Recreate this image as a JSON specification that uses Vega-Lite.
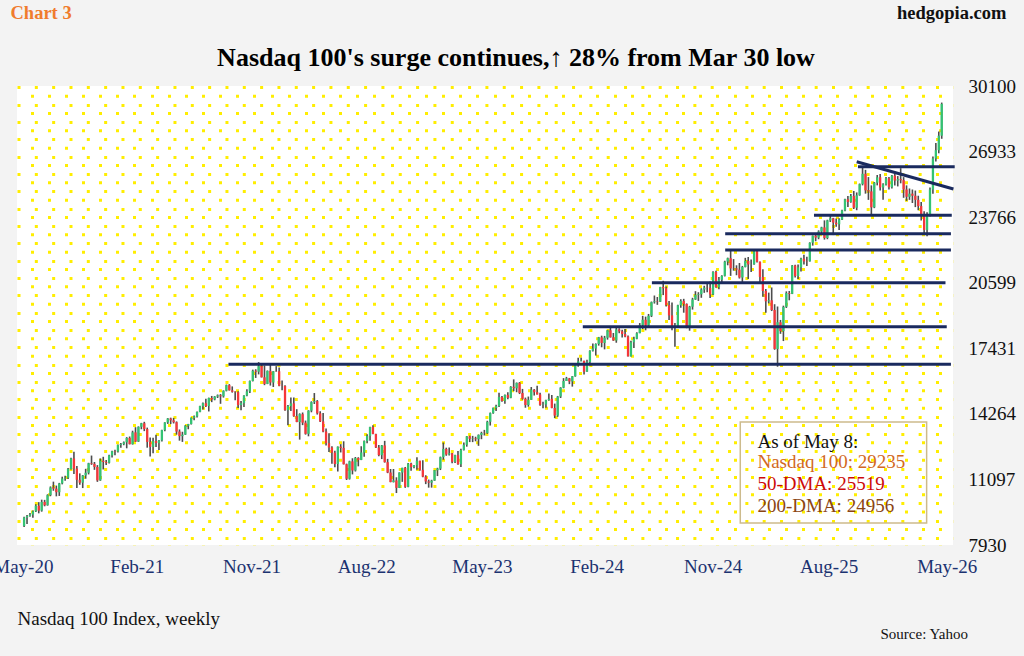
{
  "$schema": "https://vega.github.io/schema/vega-lite/v6.json",
  "autosize": {"type": "none"},
  "width": 936,
  "height": 459,
  "padding": {"left": 17, "top": 86, "right": 71, "bottom": 111},
  "background": "#f3f3f3",
  "view": {"fill": "#ffffff", "stroke": null},
  "title": {
    "text": "Nasdaq 100's surge continues,↑ 28% from Mar 30 low",
    "anchor": "middle",
    "frame": "group",
    "dx": 31,
    "offset": -89,
    "baseline": "alphabetic",
    "font": "Liberation Serif",
    "fontSize": 26,
    "fontWeight": "bold",
    "color": "#000000"
  },
  "datasets": {
    "weekly": [
      {"d":"2020-05-08","o":8850,"h":9290,"l":8800,"c":9260},
      {"d":"2020-05-15","o":9260,"h":9380,"l":8950,"c":9330},
      {"d":"2020-05-22","o":9330,"h":9470,"l":9290,"c":9400},
      {"d":"2020-05-29","o":9400,"h":9600,"l":9250,"c":9555},
      {"d":"2020-06-05","o":9555,"h":9900,"l":9520,"c":9830},
      {"d":"2020-06-12","o":9830,"h":10000,"l":9460,"c":9590},
      {"d":"2020-06-19","o":9590,"h":10120,"l":9540,"c":10010},
      {"d":"2020-06-26","o":10010,"h":10110,"l":9800,"c":9850},
      {"d":"2020-07-03","o":9850,"h":10380,"l":9830,"c":10340},
      {"d":"2020-07-10","o":10340,"h":10760,"l":10290,"c":10710},
      {"d":"2020-07-17","o":10710,"h":10990,"l":10550,"c":10650},
      {"d":"2020-07-24","o":10650,"h":10800,"l":10280,"c":10480},
      {"d":"2020-07-31","o":10480,"h":10930,"l":10300,"c":10905},
      {"d":"2020-08-07","o":10905,"h":11230,"l":10860,"c":11140},
      {"d":"2020-08-14","o":11140,"h":11280,"l":11030,"c":11180},
      {"d":"2020-08-21","o":11180,"h":11650,"l":11120,"c":11600},
      {"d":"2020-08-28","o":11600,"h":12140,"l":11580,"c":12110},
      {"d":"2020-09-04","o":12110,"h":12440,"l":11360,"c":11620},
      {"d":"2020-09-11","o":11620,"h":11740,"l":10680,"c":11080},
      {"d":"2020-09-18","o":11080,"h":11390,"l":10840,"c":10940},
      {"d":"2020-09-25","o":10940,"h":11310,"l":10680,"c":11290},
      {"d":"2020-10-02","o":11290,"h":11610,"l":11130,"c":11420},
      {"d":"2020-10-09","o":11420,"h":11900,"l":11340,"c":11880},
      {"d":"2020-10-16","o":11880,"h":12250,"l":11800,"c":11850},
      {"d":"2020-10-23","o":11850,"h":11940,"l":11560,"c":11700},
      {"d":"2020-10-30","o":11700,"h":11790,"l":10980,"c":11050},
      {"d":"2020-11-06","o":11050,"h":12110,"l":11030,"c":12000},
      {"d":"2020-11-13","o":12000,"h":12190,"l":11580,"c":11940},
      {"d":"2020-11-20","o":11940,"h":12040,"l":11800,"c":11900},
      {"d":"2020-11-27","o":11900,"h":12290,"l":11870,"c":12260},
      {"d":"2020-12-04","o":12260,"h":12480,"l":12160,"c":12460},
      {"d":"2020-12-11","o":12460,"h":12530,"l":12270,"c":12440},
      {"d":"2020-12-18","o":12440,"h":12780,"l":12400,"c":12760},
      {"d":"2020-12-25","o":12760,"h":12860,"l":12630,"c":12800},
      {"d":"2021-01-01","o":12800,"h":12930,"l":12750,"c":12890},
      {"d":"2021-01-08","o":12890,"h":13140,"l":12600,"c":13100},
      {"d":"2021-01-15","o":13100,"h":13170,"l":12790,"c":12800},
      {"d":"2021-01-22","o":12800,"h":13450,"l":12780,"c":13370},
      {"d":"2021-01-29","o":13370,"h":13620,"l":12910,"c":12925},
      {"d":"2021-02-05","o":12925,"h":13660,"l":12910,"c":13640},
      {"d":"2021-02-12","o":13640,"h":13830,"l":13520,"c":13810},
      {"d":"2021-02-19","o":13810,"h":13880,"l":13430,"c":13530},
      {"d":"2021-02-26","o":13530,"h":13600,"l":12630,"c":12910},
      {"d":"2021-03-05","o":12910,"h":13120,"l":12210,"c":12670},
      {"d":"2021-03-12","o":12670,"h":13110,"l":12360,"c":12950},
      {"d":"2021-03-19","o":12950,"h":13250,"l":12660,"c":12850},
      {"d":"2021-03-26","o":12850,"h":13000,"l":12520,"c":12980},
      {"d":"2021-04-02","o":12980,"h":13500,"l":12930,"c":13480},
      {"d":"2021-04-09","o":13480,"h":13860,"l":13430,"c":13850},
      {"d":"2021-04-16","o":13850,"h":14060,"l":13780,"c":14040},
      {"d":"2021-04-23","o":14040,"h":14080,"l":13770,"c":13950},
      {"d":"2021-04-30","o":13950,"h":14070,"l":13800,"c":13860},
      {"d":"2021-05-07","o":13860,"h":13900,"l":13260,"c":13410},
      {"d":"2021-05-14","o":13410,"h":13510,"l":12970,"c":13190},
      {"d":"2021-05-21","o":13190,"h":13400,"l":12910,"c":13260},
      {"d":"2021-05-28","o":13260,"h":13720,"l":13250,"c":13690},
      {"d":"2021-06-04","o":13690,"h":13780,"l":13520,"c":13770},
      {"d":"2021-06-11","o":13770,"h":14090,"l":13750,"c":14070},
      {"d":"2021-06-18","o":14070,"h":14190,"l":13960,"c":14140},
      {"d":"2021-06-25","o":14140,"h":14380,"l":14090,"c":14360},
      {"d":"2021-07-02","o":14360,"h":14660,"l":14340,"c":14640},
      {"d":"2021-07-09","o":14640,"h":14810,"l":14470,"c":14780},
      {"d":"2021-07-16","o":14780,"h":15000,"l":14600,"c":14640},
      {"d":"2021-07-23","o":14640,"h":15050,"l":14380,"c":15030},
      {"d":"2021-07-30","o":15030,"h":15130,"l":14830,"c":14960},
      {"d":"2021-08-06","o":14960,"h":15120,"l":14920,"c":15100},
      {"d":"2021-08-13","o":15100,"h":15200,"l":15030,"c":15160},
      {"d":"2021-08-20","o":15160,"h":15220,"l":14750,"c":15110},
      {"d":"2021-08-27","o":15110,"h":15400,"l":15050,"c":15380},
      {"d":"2021-09-03","o":15380,"h":15680,"l":15350,"c":15650},
      {"d":"2021-09-10","o":15650,"h":15700,"l":15390,"c":15400},
      {"d":"2021-09-17","o":15400,"h":15590,"l":15290,"c":15330},
      {"d":"2021-09-24","o":15330,"h":15360,"l":14920,"c":15310},
      {"d":"2021-10-01","o":15310,"h":15360,"l":14550,"c":14690},
      {"d":"2021-10-08","o":14690,"h":14890,"l":14440,"c":14780},
      {"d":"2021-10-15","o":14780,"h":15160,"l":14600,"c":15150},
      {"d":"2021-10-22","o":15150,"h":15450,"l":15110,"c":15350},
      {"d":"2021-10-29","o":15350,"h":15870,"l":15270,"c":15850},
      {"d":"2021-11-05","o":15850,"h":16400,"l":15830,"c":16350},
      {"d":"2021-11-12","o":16350,"h":16420,"l":16000,"c":16300},
      {"d":"2021-11-19","o":16300,"h":16765,"l":16170,"c":16570},
      {"d":"2021-11-26","o":16570,"h":16630,"l":16020,"c":16030},
      {"d":"2021-12-03","o":16030,"h":16600,"l":15650,"c":15710},
      {"d":"2021-12-10","o":15710,"h":16360,"l":15700,"c":16340},
      {"d":"2021-12-17","o":16340,"h":16660,"l":15630,"c":15780},
      {"d":"2021-12-24","o":15780,"h":16330,"l":15560,"c":16320},
      {"d":"2021-12-31","o":16330,"h":16570,"l":16300,"c":16320},
      {"d":"2022-01-07","o":16320,"h":16500,"l":15600,"c":15620},
      {"d":"2022-01-14","o":15620,"h":15870,"l":15400,"c":15610},
      {"d":"2022-01-21","o":15610,"h":15640,"l":14420,"c":14440},
      {"d":"2022-01-28","o":14440,"h":14690,"l":13720,"c":14640},
      {"d":"2022-02-04","o":14640,"h":15050,"l":14400,"c":14770},
      {"d":"2022-02-11","o":14770,"h":15060,"l":14120,"c":14150},
      {"d":"2022-02-18","o":14150,"h":14490,"l":13860,"c":13870},
      {"d":"2022-02-25","o":13870,"h":14290,"l":13020,"c":14250},
      {"d":"2022-03-04","o":14250,"h":14330,"l":13720,"c":13840},
      {"d":"2022-03-11","o":13840,"h":13940,"l":13260,"c":13300},
      {"d":"2022-03-18","o":13300,"h":14440,"l":13180,"c":14420},
      {"d":"2022-03-25","o":14420,"h":14870,"l":14340,"c":14830},
      {"d":"2022-04-01","o":14830,"h":15270,"l":14740,"c":14880},
      {"d":"2022-04-08","o":14880,"h":14930,"l":14230,"c":14290},
      {"d":"2022-04-15","o":14290,"h":14390,"l":13870,"c":13900},
      {"d":"2022-04-22","o":13900,"h":14300,"l":13370,"c":13410},
      {"d":"2022-04-29","o":13410,"h":13560,"l":12730,"c":12850},
      {"d":"2022-05-06","o":12850,"h":13330,"l":12420,"c":12640},
      {"d":"2022-05-13","o":12640,"h":12700,"l":11850,"c":12390},
      {"d":"2022-05-20","o":12390,"h":12480,"l":11690,"c":11840},
      {"d":"2022-05-27","o":11840,"h":12690,"l":11480,"c":12680},
      {"d":"2022-06-03","o":12680,"h":12800,"l":12400,"c":12620},
      {"d":"2022-06-10","o":12620,"h":12940,"l":11820,"c":11830},
      {"d":"2022-06-17","o":11830,"h":11860,"l":11070,"c":11130},
      {"d":"2022-06-24","o":11130,"h":12000,"l":11090,"c":11970},
      {"d":"2022-07-01","o":11970,"h":12120,"l":11340,"c":11530},
      {"d":"2022-07-08","o":11530,"h":12180,"l":11480,"c":12130},
      {"d":"2022-07-15","o":12130,"h":12170,"l":11730,"c":12040},
      {"d":"2022-07-22","o":12040,"h":12700,"l":12030,"c":12400},
      {"d":"2022-07-29","o":12400,"h":12980,"l":12190,"c":12950},
      {"d":"2022-08-05","o":12950,"h":13280,"l":12850,"c":13200},
      {"d":"2022-08-12","o":13200,"h":13640,"l":12970,"c":13630},
      {"d":"2022-08-19","o":13630,"h":13720,"l":13280,"c":13290},
      {"d":"2022-08-26","o":13290,"h":13300,"l":12620,"c":12640},
      {"d":"2022-09-02","o":12640,"h":12760,"l":12220,"c":12270},
      {"d":"2022-09-09","o":12270,"h":12760,"l":12080,"c":12740},
      {"d":"2022-09-16","o":12740,"h":12960,"l":11910,"c":11930},
      {"d":"2022-09-23","o":11930,"h":12090,"l":11400,"c":11430},
      {"d":"2022-09-30","o":11430,"h":11600,"l":10960,"c":10970},
      {"d":"2022-10-07","o":10970,"h":11600,"l":10950,"c":11050},
      {"d":"2022-10-14","o":11050,"h":11200,"l":10440,"c":10690},
      {"d":"2022-10-21","o":10690,"h":11440,"l":10680,"c":11430},
      {"d":"2022-10-28","o":11430,"h":11660,"l":10980,"c":11660},
      {"d":"2022-11-04","o":11660,"h":11700,"l":10690,"c":10740},
      {"d":"2022-11-11","o":10740,"h":11890,"l":10720,"c":11860},
      {"d":"2022-11-18","o":11860,"h":11900,"l":11520,"c":11690},
      {"d":"2022-11-25","o":11690,"h":11800,"l":11640,"c":11790},
      {"d":"2022-12-02","o":11790,"h":12170,"l":11560,"c":12000},
      {"d":"2022-12-09","o":12000,"h":12000,"l":11520,"c":11560},
      {"d":"2022-12-16","o":11560,"h":12020,"l":11200,"c":11230},
      {"d":"2022-12-23","o":11230,"h":11300,"l":10870,"c":11000},
      {"d":"2022-12-30","o":11000,"h":11090,"l":10700,"c":10940},
      {"d":"2023-01-06","o":10940,"h":11080,"l":10700,"c":11040},
      {"d":"2023-01-13","o":11040,"h":11550,"l":11030,"c":11540},
      {"d":"2023-01-20","o":11540,"h":11660,"l":11260,"c":11620},
      {"d":"2023-01-27","o":11620,"h":12200,"l":11550,"c":12170},
      {"d":"2023-02-03","o":12170,"h":12880,"l":12050,"c":12570},
      {"d":"2023-02-10","o":12570,"h":12630,"l":12240,"c":12300},
      {"d":"2023-02-17","o":12300,"h":12640,"l":12250,"c":12360},
      {"d":"2023-02-24","o":12360,"h":12370,"l":11880,"c":11950},
      {"d":"2023-03-03","o":11950,"h":12290,"l":11890,"c":12270},
      {"d":"2023-03-10","o":12270,"h":12470,"l":11810,"c":11830},
      {"d":"2023-03-17","o":11830,"h":12580,"l":11700,"c":12520},
      {"d":"2023-03-24","o":12520,"h":12880,"l":12500,"c":12770},
      {"d":"2023-03-31","o":12770,"h":13190,"l":12680,"c":13180},
      {"d":"2023-04-07","o":13180,"h":13210,"l":12900,"c":13060},
      {"d":"2023-04-14","o":13060,"h":13200,"l":12900,"c":13080},
      {"d":"2023-04-21","o":13080,"h":13160,"l":12940,"c":13040},
      {"d":"2023-04-28","o":13040,"h":13270,"l":12720,"c":13250},
      {"d":"2023-05-05","o":13250,"h":13400,"l":13040,"c":13340},
      {"d":"2023-05-12","o":13350,"h":13490,"l":13220,"c":13340},
      {"d":"2023-05-19","o":13340,"h":13930,"l":13300,"c":13880},
      {"d":"2023-05-26","o":13880,"h":14330,"l":13700,"c":14300},
      {"d":"2023-06-02","o":14300,"h":14570,"l":14270,"c":14550},
      {"d":"2023-06-09","o":14550,"h":14700,"l":14400,"c":14640},
      {"d":"2023-06-16","o":14640,"h":15280,"l":14600,"c":15080},
      {"d":"2023-06-23","o":15080,"h":15130,"l":14850,"c":14890},
      {"d":"2023-06-30","o":14890,"h":15200,"l":14750,"c":15180},
      {"d":"2023-07-07","o":15180,"h":15310,"l":14970,"c":15040},
      {"d":"2023-07-14","o":15040,"h":15600,"l":15020,"c":15570},
      {"d":"2023-07-21","o":15570,"h":15930,"l":15360,"c":15500},
      {"d":"2023-07-28","o":15500,"h":15780,"l":15310,"c":15760},
      {"d":"2023-08-04","o":15760,"h":15800,"l":15220,"c":15270},
      {"d":"2023-08-11","o":15270,"h":15470,"l":14950,"c":14990},
      {"d":"2023-08-18","o":14990,"h":15050,"l":14560,"c":14690},
      {"d":"2023-08-25","o":14690,"h":15100,"l":14610,"c":14940},
      {"d":"2023-09-01","o":14940,"h":15560,"l":14940,"c":15430},
      {"d":"2023-09-08","o":15430,"h":15460,"l":15150,"c":15310},
      {"d":"2023-09-15","o":15310,"h":15620,"l":15200,"c":15200},
      {"d":"2023-09-22","o":15200,"h":15280,"l":14660,"c":14700},
      {"d":"2023-09-29","o":14700,"h":14850,"l":14540,"c":14720},
      {"d":"2023-10-06","o":14720,"h":14940,"l":14560,"c":14930},
      {"d":"2023-10-13","o":14930,"h":15250,"l":14900,"c":14990},
      {"d":"2023-10-20","o":14990,"h":15180,"l":14530,"c":14550},
      {"d":"2023-10-27","o":14550,"h":14760,"l":14060,"c":14180},
      {"d":"2023-11-03","o":14180,"h":15130,"l":14120,"c":15100},
      {"d":"2023-11-10","o":15100,"h":15550,"l":15030,"c":15530},
      {"d":"2023-11-17","o":15530,"h":15990,"l":15500,"c":15850},
      {"d":"2023-11-24","o":15850,"h":16050,"l":15850,"c":15980},
      {"d":"2023-12-01","o":15980,"h":16000,"l":15700,"c":15830},
      {"d":"2023-12-08","o":15830,"h":16090,"l":15580,"c":16080},
      {"d":"2023-12-15","o":16080,"h":16680,"l":16060,"c":16620},
      {"d":"2023-12-22","o":16620,"h":16970,"l":16540,"c":16800},
      {"d":"2023-12-29","o":16800,"h":16970,"l":16800,"c":16830},
      {"d":"2024-01-05","o":16830,"h":16830,"l":16170,"c":16300},
      {"d":"2024-01-12","o":16300,"h":16880,"l":16300,"c":16770},
      {"d":"2024-01-19","o":16770,"h":17340,"l":16610,"c":17310},
      {"d":"2024-01-26","o":17310,"h":17660,"l":17280,"c":17420},
      {"d":"2024-02-02","o":17420,"h":17670,"l":17080,"c":17640},
      {"d":"2024-02-09","o":17640,"h":17980,"l":17560,"c":17960},
      {"d":"2024-02-16","o":17960,"h":18040,"l":17480,"c":17690},
      {"d":"2024-02-23","o":17690,"h":18030,"l":17380,"c":17940},
      {"d":"2024-03-01","o":17940,"h":18310,"l":17850,"c":18300},
      {"d":"2024-03-08","o":18300,"h":18420,"l":17950,"c":17960},
      {"d":"2024-03-15","o":17960,"h":18170,"l":17790,"c":17810},
      {"d":"2024-03-22","o":17810,"h":18460,"l":17700,"c":18340},
      {"d":"2024-03-29","o":18340,"h":18400,"l":18160,"c":18250},
      {"d":"2024-04-05","o":18250,"h":18330,"l":17950,"c":18120},
      {"d":"2024-04-12","o":18120,"h":18360,"l":17970,"c":18000},
      {"d":"2024-04-19","o":18000,"h":18050,"l":17030,"c":17040},
      {"d":"2024-04-26","o":17040,"h":17790,"l":17040,"c":17720},
      {"d":"2024-05-03","o":17720,"h":17990,"l":17450,"c":17890},
      {"d":"2024-05-10","o":17890,"h":18200,"l":17870,"c":18160},
      {"d":"2024-05-17","o":18160,"h":18650,"l":18160,"c":18550},
      {"d":"2024-05-24","o":18550,"h":19000,"l":18360,"c":18810},
      {"d":"2024-05-31","o":18810,"h":18960,"l":18300,"c":18540},
      {"d":"2024-06-07","o":18540,"h":19090,"l":18500,"c":19000},
      {"d":"2024-06-14","o":19000,"h":19690,"l":18940,"c":19660},
      {"d":"2024-06-21","o":19660,"h":19980,"l":19590,"c":19700},
      {"d":"2024-06-28","o":19700,"h":19910,"l":19530,"c":19680},
      {"d":"2024-07-05","o":19680,"h":20400,"l":19670,"c":20390},
      {"d":"2024-07-12","o":20390,"h":20690,"l":20000,"c":20330},
      {"d":"2024-07-19","o":20330,"h":20420,"l":19450,"c":19520},
      {"d":"2024-07-26","o":19520,"h":19720,"l":18800,"c":19020},
      {"d":"2024-08-02","o":19020,"h":19640,"l":18300,"c":18440},
      {"d":"2024-08-09","o":18440,"h":18650,"l":17500,"c":18500},
      {"d":"2024-08-16","o":18500,"h":19540,"l":18470,"c":19510},
      {"d":"2024-08-23","o":19510,"h":19800,"l":19390,"c":19720},
      {"d":"2024-08-30","o":19720,"h":19820,"l":19150,"c":19570},
      {"d":"2024-09-06","o":19570,"h":19600,"l":18400,"c":18420},
      {"d":"2024-09-13","o":18420,"h":19480,"l":18280,"c":19440},
      {"d":"2024-09-20","o":19440,"h":19870,"l":19300,"c":19790},
      {"d":"2024-09-27","o":19790,"h":20190,"l":19770,"c":20010},
      {"d":"2024-10-04","o":20010,"h":20140,"l":19720,"c":20040},
      {"d":"2024-10-11","o":20040,"h":20330,"l":19870,"c":20270},
      {"d":"2024-10-18","o":20270,"h":20450,"l":20110,"c":20360},
      {"d":"2024-10-25","o":20360,"h":20550,"l":20140,"c":20350},
      {"d":"2024-11-01","o":20350,"h":20660,"l":19860,"c":20030},
      {"d":"2024-11-08","o":20030,"h":21150,"l":20000,"c":21120},
      {"d":"2024-11-15","o":21120,"h":21180,"l":20350,"c":20390},
      {"d":"2024-11-22","o":20390,"h":20870,"l":20280,"c":20740},
      {"d":"2024-11-29","o":20740,"h":20960,"l":20560,"c":20930},
      {"d":"2024-12-06","o":20930,"h":21660,"l":20900,"c":21620},
      {"d":"2024-12-13","o":21620,"h":21810,"l":21440,"c":21780},
      {"d":"2024-12-20","o":21780,"h":22130,"l":20930,"c":21290},
      {"d":"2024-12-27","o":21300,"h":21740,"l":21180,"c":21290},
      {"d":"2025-01-03","o":21290,"h":21440,"l":20960,"c":21230},
      {"d":"2025-01-10","o":21230,"h":21550,"l":20800,"c":20850},
      {"d":"2025-01-17","o":20850,"h":21410,"l":20540,"c":21360},
      {"d":"2025-01-24","o":21360,"h":21800,"l":21340,"c":21650},
      {"d":"2025-01-31","o":21650,"h":21840,"l":20780,"c":21480},
      {"d":"2025-02-07","o":21480,"h":21720,"l":21120,"c":21490},
      {"d":"2025-02-14","o":21490,"h":22130,"l":21470,"c":22120},
      {"d":"2025-02-21","o":22120,"h":22220,"l":21570,"c":21610},
      {"d":"2025-02-28","o":21610,"h":21620,"l":20580,"c":20880},
      {"d":"2025-03-07","o":20880,"h":21250,"l":19920,"c":20200},
      {"d":"2025-03-14","o":20200,"h":20300,"l":19150,"c":19700},
      {"d":"2025-03-21","o":19700,"h":20120,"l":19600,"c":19750},
      {"d":"2025-03-28","o":19750,"h":20370,"l":19230,"c":19280},
      {"d":"2025-04-04","o":19280,"h":19560,"l":17360,"c":17400},
      {"d":"2025-04-11","o":17400,"h":19450,"l":16540,"c":18690},
      {"d":"2025-04-18","o":18690,"h":18800,"l":18130,"c":18260},
      {"d":"2025-04-25","o":18260,"h":19490,"l":17780,"c":19430},
      {"d":"2025-05-02","o":19430,"h":20180,"l":19380,"c":20100},
      {"d":"2025-05-09","o":20100,"h":20200,"l":19750,"c":20060},
      {"d":"2025-05-16","o":20060,"h":21450,"l":20050,"c":21430},
      {"d":"2025-05-23","o":21430,"h":21470,"l":20850,"c":20920},
      {"d":"2025-05-30","o":20920,"h":21480,"l":20780,"c":21340},
      {"d":"2025-06-06","o":21340,"h":21800,"l":21140,"c":21760},
      {"d":"2025-06-13","o":21760,"h":21950,"l":21480,"c":21630},
      {"d":"2025-06-20","o":21640,"h":21850,"l":21400,"c":21630},
      {"d":"2025-06-27","o":21630,"h":22550,"l":21620,"c":22530},
      {"d":"2025-07-04","o":22530,"h":22880,"l":22390,"c":22870},
      {"d":"2025-07-11","o":22870,"h":22920,"l":22600,"c":22780},
      {"d":"2025-07-18","o":22780,"h":23130,"l":22700,"c":23070},
      {"d":"2025-07-25","o":23070,"h":23300,"l":23000,"c":23270},
      {"d":"2025-08-01","o":23270,"h":23610,"l":22680,"c":22760},
      {"d":"2025-08-08","o":22760,"h":23640,"l":22700,"c":23610},
      {"d":"2025-08-15","o":23610,"h":23890,"l":23530,"c":23710},
      {"d":"2025-08-22","o":23710,"h":23730,"l":22900,"c":23500},
      {"d":"2025-08-29","o":23500,"h":23700,"l":23300,"c":23420},
      {"d":"2025-09-05","o":23420,"h":23710,"l":23140,"c":23650},
      {"d":"2025-09-12","o":23650,"h":24120,"l":23630,"c":24090},
      {"d":"2025-09-19","o":24090,"h":24660,"l":24050,"c":24630},
      {"d":"2025-09-26","o":24630,"h":24790,"l":24250,"c":24500},
      {"d":"2025-10-03","o":24500,"h":24880,"l":24460,"c":24790},
      {"d":"2025-10-10","o":24790,"h":25030,"l":24160,"c":24220},
      {"d":"2025-10-17","o":24220,"h":24960,"l":24100,"c":24820},
      {"d":"2025-10-24","o":24820,"h":25390,"l":24800,"c":25360},
      {"d":"2025-10-31","o":25360,"h":26180,"l":25300,"c":25860},
      {"d":"2025-11-07","o":25860,"h":26050,"l":24900,"c":25060},
      {"d":"2025-11-14","o":25060,"h":25700,"l":24600,"c":25010},
      {"d":"2025-11-21","o":25010,"h":25300,"l":23850,"c":24240},
      {"d":"2025-11-28","o":24240,"h":25460,"l":24200,"c":25430},
      {"d":"2025-12-05","o":25430,"h":25800,"l":25300,"c":25690},
      {"d":"2025-12-12","o":25690,"h":25850,"l":25050,"c":25200},
      {"d":"2025-12-19","o":25200,"h":25400,"l":24600,"c":25350},
      {"d":"2025-12-26","o":25350,"h":25700,"l":25300,"c":25640},
      {"d":"2026-01-02","o":25640,"h":25700,"l":25100,"c":25210},
      {"d":"2026-01-09","o":25210,"h":25800,"l":25150,"c":25770},
      {"d":"2026-01-16","o":25770,"h":25850,"l":25300,"c":25530},
      {"d":"2026-01-23","o":25530,"h":25750,"l":25250,"c":25600},
      {"d":"2026-01-30","o":25600,"h":26130,"l":25400,"c":25550},
      {"d":"2026-02-06","o":25550,"h":25700,"l":24700,"c":25100},
      {"d":"2026-02-13","o":25100,"h":25300,"l":24550,"c":24750},
      {"d":"2026-02-20","o":24750,"h":25150,"l":24600,"c":24900},
      {"d":"2026-02-27","o":24900,"h":25100,"l":24450,"c":24800},
      {"d":"2026-03-06","o":24800,"h":25050,"l":24250,"c":24600},
      {"d":"2026-03-13","o":24600,"h":24800,"l":24100,"c":24300},
      {"d":"2026-03-20","o":24300,"h":24500,"l":23600,"c":23900},
      {"d":"2026-03-27","o":23900,"h":24050,"l":23000,"c":23150},
      {"d":"2026-04-03","o":23150,"h":24000,"l":22840,"c":23900},
      {"d":"2026-04-10","o":23900,"h":25200,"l":23800,"c":25100},
      {"d":"2026-04-17","o":25100,"h":26700,"l":24900,"c":26600},
      {"d":"2026-04-24","o":26600,"h":27350,"l":26450,"c":27000},
      {"d":"2026-05-01","o":27000,"h":27900,"l":26850,"c":27700},
      {"d":"2026-05-08","o":27700,"h":29300,"l":27550,"c":29235}
    ],
    "levels": [
      {"start":"2021-09-08","end":"2026-05-30","level":16658},
      {"start":"2024-01-02","end":"2026-05-20","level":18474},
      {"start":"2024-06-15","end":"2026-05-17","level":20599},
      {"start":"2024-12-07","end":"2026-05-30","level":22179},
      {"start":"2024-12-07","end":"2026-05-30","level":22966},
      {"start":"2025-07-07","end":"2026-06-01","level":23854},
      {"start":"2025-10-20","end":"2026-06-08","level":26202}
    ],
    "trend": [
      {"start":"2025-10-17","end":"2026-06-05","from":26443,"to":25125}
    ]
  },
  "resolve": {"axis": {"x": "independent", "y": "independent"}},
  "layer": [
    {
      "data": {"name": "weekly"},
      "mark": {"type": "rule", "stroke": "#4d4d4d", "strokeWidth": 1.6},
      "encoding": {
        "x": {
          "field": "d", "type": "temporal",
          "scale": {"domain": [{"year": 2020, "month": 5, "date": 3, "utc": true}, {"year": 2026, "month": 5, "date": 23, "utc": true}], "nice": false},
          "axis": {
            "orient": "top",
            "values": [1590443700000,1593980650000,1597517600000,1601054550000,1604591500000,1608128450000,1611665400000,1615202350000,1618739300000,1622276250000,1625813200000,1629350150000,1632887100000,1636424050000,1639961000000,1643497950000,1647034900000,1650571850000,1654108800000,1657645750000,1661182700000,1664719650000,1668256600000,1671793550000,1675330500000,1678867450000,1682404400000,1685941350000,1689478300000,1693015250000,1696552200000,1700089150000,1703626100000,1707163050000,1710700000000,1714236950000,1717773900000,1721310850000,1724847800000,1728384750000,1731921700000,1735458650000,1738995600000,1742532550000,1746069500000,1749606450000,1753143400000,1756680350000,1760217300000,1763754250000,1767291200000,1770828150000,1774365100000,1777902050000],
            "grid": true, "gridColor": "#ffee00", "gridOpacity": 1, "gridWidth": 3,
            "gridDash": [3, 14.33], "gridDashOffset": 2.78,
            "labels": false, "ticks": false, "domain": false,
            "title": "Chart 3", "titleAngle": 0, "titleX": -7, "titleY": -74,
            "titleAlign": "left", "titleBaseline": "middle",
            "titleFont": "Liberation Serif", "titleFontSize": 18.5, "titleFontWeight": "bold", "titleColor": "#f07c2c"
          }
        },
        "y": {
          "field": "l", "type": "quantitative",
          "scale": {"domain": [7930, 30100], "nice": false, "zero": false},
          "axis": {
            "orient": "left",
            "values": [30037,29200,28363,27526,26689,25852,25015,24178,23341,22504,21667,20830,19993,19156,18319,17482,16645,15808,14971,14134,13297,12460,11623,10786,9949,9112,8275],
            "grid": true, "gridColor": "#ffee00", "gridOpacity": 1, "gridWidth": 3,
            "gridDash": [3, 14.33], "gridDashOffset": 0,
            "labels": false, "ticks": false, "domain": false,
            "title": "hedgopia.com", "titleAngle": 0, "titleX": 989, "titleY": -74,
            "titleAlign": "right", "titleBaseline": "middle",
            "titleFont": "Liberation Serif", "titleFontSize": 18.5, "titleFontWeight": "bold", "titleColor": "#111111"
          }
        },
        "y2": {"field": "h"}
      }
    },
    {
      "data": {"name": "weekly"},
      "mark": {"type": "bar", "width": 2.3},
      "encoding": {
        "x": {
          "field": "d", "type": "temporal",
          "axis": {
            "orient": "bottom",
            "values": [
              {"year": 2020, "month": 5, "date": 5, "utc": true},
              {"year": 2021, "month": 2, "date": 1, "utc": true},
              {"year": 2021, "month": 11, "date": 2, "utc": true},
              {"year": 2022, "month": 8, "date": 3, "utc": true},
              {"year": 2023, "month": 5, "date": 6, "utc": true},
              {"year": 2024, "month": 2, "date": 4, "utc": true},
              {"year": 2024, "month": 11, "date": 7, "utc": true},
              {"year": 2025, "month": 8, "date": 11, "utc": true},
              {"year": 2026, "month": 5, "date": 20, "utc": true}
            ],
            "format": "%b-%y", "labelFlush": false, "labelOverlap": false,
            "labelFont": "Liberation Serif", "labelFontSize": 19, "labelColor": "#1b3270",
            "labelPadding": 12, "ticks": false, "domain": false, "grid": false,
            "title": "Nasdaq 100 Index, weekly", "titleX": 0, "titleY": 73,
            "titleAlign": "left", "titleBaseline": "middle", "titleAnchor": "start",
            "titleFont": "Liberation Serif", "titleFontSize": 19, "titleFontWeight": "normal", "titleColor": "#111111"
          }
        },
        "y": {
          "field": "o", "type": "quantitative",
          "axis": {
            "orient": "right",
            "values": [7930, 11097, 14264, 17431, 20599, 23766, 26933, 30100],
            "format": "d", "labelFont": "Liberation Serif", "labelFontSize": 19, "labelColor": "#111111",
            "labelAlign": "left", "labelBaseline": "middle", "labelPadding": 15,
            "ticks": false, "domain": false, "grid": false,
            "title": "Source: Yahoo", "titleAngle": 0, "titleX": -73, "titleY": 547,
            "titleAlign": "left", "titleBaseline": "middle",
            "titleFont": "Liberation Serif", "titleFontSize": 15, "titleFontWeight": "normal", "titleColor": "#111111"
          }
        },
        "y2": {"field": "c"},
        "color": {"condition": {"test": "datum.c >= datum.o", "value": "#33c373"}, "value": "#f5363a"}
      }
    },
    {
      "data": {"name": "levels"},
      "mark": {"type": "rule", "stroke": "#1a2a5e", "strokeWidth": 3},
      "encoding": {
        "x": {"field": "start", "type": "temporal", "axis": null},
        "x2": {"field": "end"},
        "y": {"field": "level", "type": "quantitative", "axis": null}
      }
    },
    {
      "data": {"name": "trend"},
      "mark": {"type": "rule", "stroke": "#1a2a5e", "strokeWidth": 3},
      "encoding": {
        "x": {"field": "start", "type": "temporal", "axis": null},
        "x2": {"field": "end"},
        "y": {"field": "from", "type": "quantitative", "axis": null},
        "y2": {"field": "to"}
      }
    },
    {
      "data": {"values": [{}]},
      "mark": {"type": "rect", "fill": "#ffffff", "fillOpacity": 0, "stroke": "#cdbb8c", "strokeWidth": 1.5},
      "encoding": {
        "x": {"datum": {"year": 2025, "month": 1, "date": 12, "utc": true}, "type": "temporal", "axis": null},
        "x2": {"datum": {"year": 2026, "month": 4, "date": 2, "utc": true}},
        "y": {"datum": 13871, "type": "quantitative", "axis": null},
        "y2": {"datum": 8993}
      }
    },
    {
      "data": {"values": [{}]},
      "mark": {"type": "text", "align": "left", "baseline": "middle", "font": "Liberation Serif", "fontSize": 19, "color": "#111111"},
      "encoding": {
        "x": {"datum": {"year": 2025, "month": 2, "date": 22, "utc": true}, "type": "temporal", "axis": null},
        "y": {"datum": 12905, "type": "quantitative", "axis": null},
        "text": {"value": "As of May 8:"}
      }
    },
    {
      "data": {"values": [{}]},
      "mark": {"type": "text", "align": "left", "baseline": "middle", "font": "Liberation Serif", "fontSize": 19, "color": "#d2691e"},
      "encoding": {
        "x": {"datum": {"year": 2025, "month": 2, "date": 22, "utc": true}, "type": "temporal", "axis": null},
        "y": {"datum": 11939, "type": "quantitative", "axis": null},
        "text": {"value": "Nasdaq 100: 29235"}
      }
    },
    {
      "data": {"values": [{}]},
      "mark": {"type": "text", "align": "left", "baseline": "middle", "font": "Liberation Serif", "fontSize": 19, "color": "#cc0a0a"},
      "encoding": {
        "x": {"datum": {"year": 2025, "month": 2, "date": 22, "utc": true}, "type": "temporal", "axis": null},
        "y": {"datum": 10876, "type": "quantitative", "axis": null},
        "text": {"value": "50-DMA: 25519"}
      }
    },
    {
      "data": {"values": [{}]},
      "mark": {"type": "text", "align": "left", "baseline": "middle", "font": "Liberation Serif", "fontSize": 19, "color": "#8b4513"},
      "encoding": {
        "x": {"datum": {"year": 2025, "month": 2, "date": 22, "utc": true}, "type": "temporal", "axis": null},
        "y": {"datum": 9814, "type": "quantitative", "axis": null},
        "text": {"value": "200-DMA: 24956"}
      }
    }
  ]
}
